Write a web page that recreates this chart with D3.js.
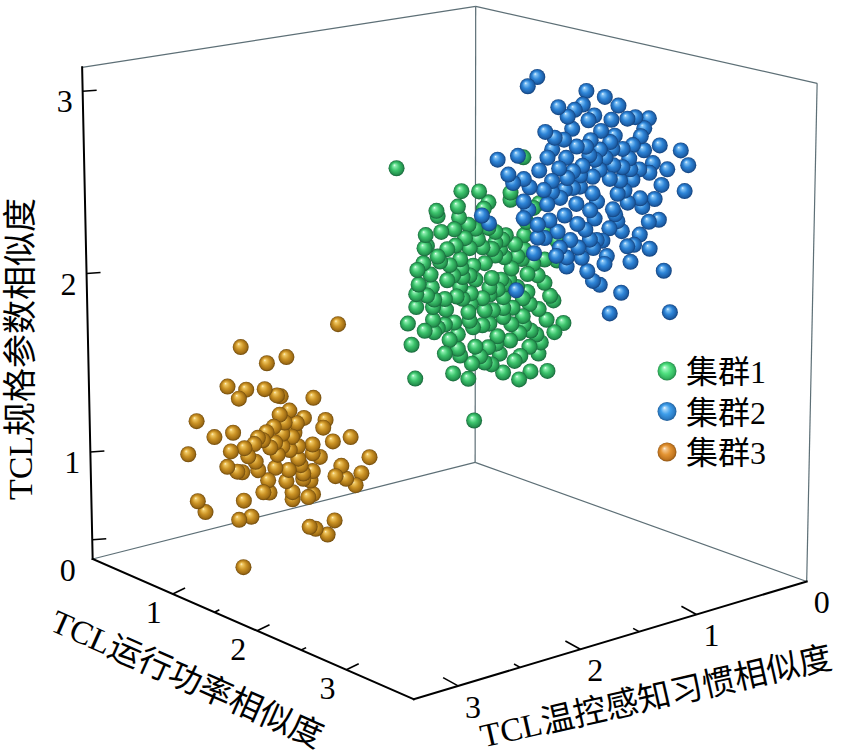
<!DOCTYPE html>
<html>
<head>
<meta charset="utf-8">
<script src="https://cdn.jsdelivr.net/npm/d3@7"></script>
<style>
  body { margin: 0; background: #fff; }
  svg { display: block; }
</style>
</head>
<body>
<svg id="chart" width="841" height="756"></svg>
<script>
// axis ranges (data units)
const xDomain = [0, 3.72];   // TCL运行功率相似度
const yDomain = [0, 3.35];   // TCL温控感知习惯相似度
const zDomain = [0.39, 3.13]; // TCL规格参数相似度

const xTicks = [0, 1, 2, 3];
const yTicks = [0, 1, 2, 3];
const zTicks = [0.5, 1, 2, 3];
const zTickLabels = [1, 2, 3];
const minorTicks = [1.5, 2.5];

const clusterNames = ["集群1", "集群2", "集群3"];

// 集群1 (x, y, z)
const cluster1 = [
  [2.0,2.20,2.71],[2.0,1.66,2.52],[2.0,1.51,2.50],[2.0,1.43,2.43],[2.0,1.47,2.40],[2.0,1.87,2.44],
  [2.0,1.86,2.41],[2.0,1.68,2.38],[2.0,1.72,2.32],[2.0,1.60,2.33],[2.0,1.54,2.30],[2.0,1.37,2.26],
  [2.0,1.28,2.23],[2.0,1.96,2.32],[2.0,1.95,2.26],[2.0,1.71,2.23],[2.0,1.63,2.26],[2.0,1.59,2.20],
  [2.0,1.48,2.19],[2.0,1.37,2.20],[2.0,1.31,2.21],[2.0,1.12,2.21],[2.0,1.24,2.46],[2.0,1.24,2.42],
  [2.0,0.99,2.37],[2.0,1.04,2.35],[2.0,1.98,2.17],[2.0,2.03,2.14],[2.0,1.92,2.10],[2.0,1.67,2.15],
  [2.0,1.66,2.10],[2.0,1.56,2.10],[2.0,1.46,2.10],[2.0,1.37,2.13],[2.0,1.29,2.11],[2.0,1.18,2.10],
  [2.0,1.12,2.13],[2.0,1.14,2.08],[2.0,1.04,2.04],[2.0,0.94,2.05],[2.0,0.83,2.14],[2.0,0.83,2.03],
  [2.0,1.09,1.99],[2.0,1.78,2.05],[2.0,1.65,2.05],[2.0,1.54,2.02],[2.0,1.40,2.01],[2.0,1.32,1.99],
  [2.0,1.25,1.98],[2.0,0.94,1.92],[2.0,1.59,2.05],[2.0,1.73,2.07],[2.0,2.04,2.01],[2.0,1.95,1.99],
  [2.0,1.80,1.95],[2.0,1.70,1.95],[2.0,1.58,1.95],[2.0,1.48,1.91],[2.0,1.30,1.89],[2.0,1.09,1.89],
  [2.0,0.89,1.84],[2.0,2.04,1.94],[2.0,1.90,1.92],[2.0,1.79,1.89],[2.0,1.58,1.89],[2.0,1.46,1.84],
  [2.0,1.30,1.83],[2.0,1.13,1.76],[2.0,2.11,1.86],[2.0,1.90,1.85],[2.0,1.89,1.78],[2.0,1.86,1.80],
  [2.0,1.59,1.80],[2.0,1.56,1.76],[2.0,1.42,1.76],[2.0,1.30,1.78],[2.0,1.23,1.73],[2.0,1.69,1.74],
  [2.0,1.16,1.67],[2.0,1.35,1.68],[2.0,1.06,1.67],[2.0,1.01,1.64],[2.0,0.97,1.59],[2.0,0.85,1.63],
  [2.0,0.77,1.67],[2.0,1.69,1.66],[2.0,1.54,1.65],[2.0,1.43,1.63],[2.0,1.36,1.64],[2.0,1.07,1.58],
  [2.0,1.80,1.65],[2.0,1.15,1.54],[2.0,1.57,1.56],[2.0,1.46,1.55],[2.0,1.40,1.53],[2.0,1.73,1.53],
  [2.0,1.30,1.47],[2.0,1.06,1.44],[2.0,0.91,1.42],[2.0,2.05,1.55],[2.0,1.55,1.24],[2.0,1.42,1.92],
  [2.0,1.13,1.86],[2.0,1.22,1.82],[2.0,1.39,1.83],[2.0,1.91,2.03],[2.0,1.67,2.00],[2.0,1.18,1.93],
  [2.0,1.42,1.96],[2.0,1.13,2.64],[2.0,1.84,2.16],[2.0,1.78,2.22],
  [2.0,1.86,2.19],[2.0,1.29,1.96],[2.0,1.60,1.85],[2.0,1.72,1.81],[2.0,1.24,1.64],[2.0,1.50,1.59],
  [2.0,0.99,1.78],[2.0,1.33,2.16],[2.0,1.65,1.93],[2.0,1.07,1.82],[2.0,1.80,1.81],[2.0,1.43,2.29],
  [2.0,2.02,2.06],[2.0,0.92,1.71],[2.0,1.20,1.52],
  [2.0,1.97,2.25],[2.0,1.83,2.32],[2.0,1.76,2.13],[2.0,1.40,2.17],[2.0,1.20,2.17],[2.0,1.00,1.97],
  [2.0,0.86,1.81],[2.0,1.97,1.80],[2.0,1.67,1.62],[2.0,1.33,1.58],[2.0,0.99,1.53],[2.0,1.89,1.96],
  [2.0,1.23,2.04],[2.0,1.52,2.24],[2.0,1.69,2.44],[2.0,1.10,2.28],[2.0,1.48,1.76],[2.0,1.12,1.71],
  [2.0,1.76,1.72],[2.0,1.35,1.94],[2.0,2.08,1.74],[2.0,1.60,1.48],[2.0,1.16,1.41],[2.0,0.94,2.21]
];

// 集群2
const cluster2 = [
  [2.6,1.49,3.19],[2.6,1.57,3.15],[2.6,1.07,3.07],[2.6,1.31,3.01],[2.6,1.23,2.95],[2.6,1.10,3.00],
  [2.6,1.00,2.93],[2.6,1.05,2.91],[2.6,0.79,2.96],[2.6,0.71,2.88],[2.6,0.64,2.88],[2.6,0.52,2.86],
  [2.6,1.42,2.89],[2.6,1.34,2.85],[2.6,1.19,2.88],[2.6,0.94,2.84],[2.6,0.59,2.77],[2.6,0.86,2.77],
  [2.6,0.66,2.73],[2.6,0.23,2.65],[2.6,0.16,2.56],[2.6,1.82,2.79],[2.6,1.65,2.79],[2.6,1.36,2.79],
  [2.6,1.40,2.75],[2.6,1.15,2.78],[2.6,1.07,2.77],[2.6,1.04,2.72],[2.6,1.24,2.73],[2.6,0.84,2.73],
  [2.6,0.90,2.69],[2.6,0.75,2.72],[2.6,0.69,2.66],[2.6,1.73,2.70],[2.6,1.69,2.65],[2.6,1.30,2.68],
  [2.6,1.18,2.65],[2.6,1.10,2.67],[2.6,0.83,2.64],[2.6,0.75,2.62],[2.6,0.48,2.61],[2.6,0.51,2.56],
  [2.6,0.60,2.59],[2.6,1.01,2.60],[2.6,1.36,2.62],[2.6,1.23,2.62],[2.6,0.86,2.57],[2.6,0.66,2.54],
  [2.6,1.55,2.61],[2.6,0.40,2.48],[2.6,0.19,2.42],[2.6,0.95,2.63],[2.6,1.12,2.56],[2.6,1.36,2.56],
  [2.6,1.29,2.52],[2.6,1.18,2.56],[2.6,1.01,2.51],[2.6,0.79,2.48],[2.6,0.59,2.43],[2.6,1.60,2.54],
  [2.6,1.15,2.47],[2.6,0.97,2.46],[2.6,0.83,2.40],[2.6,0.70,2.42],[2.6,0.57,2.38],[2.6,1.60,2.45],
  [2.6,1.48,2.40],[2.6,1.38,2.41],[2.6,1.25,2.42],[2.6,1.14,2.36],[2.6,0.99,2.37],[2.6,0.86,2.30],
  [2.6,0.79,2.33],[2.6,0.51,2.29],[2.6,1.89,2.46],[2.6,1.48,2.33],[2.6,1.42,2.32],[2.6,1.31,2.34],
  [2.6,1.03,2.26],[2.6,0.97,2.25],[2.6,0.70,2.18],[2.6,0.64,2.18],[2.6,1.51,2.25],[2.6,1.32,2.21],
  [2.6,1.23,2.19],[2.6,1.13,2.23],[2.6,1.10,2.17],[2.6,1.00,2.21],[2.6,0.88,2.15],[2.6,1.23,2.14],
  [2.6,1.05,2.09],[2.6,1.00,2.03],[2.6,0.67,2.09],[2.6,0.37,2.00],[2.6,1.66,2.07],[2.6,0.75,1.93],
  [2.6,0.85,1.83],[2.6,0.31,1.76],[2.6,1.95,2.51],[2.6,0.95,2.74],[2.6,0.77,2.55],[2.6,1.07,2.32],
  [2.6,0.56,2.69],[2.6,0.46,2.41],[2.6,1.20,2.28],[2.6,0.85,2.89],[2.6,0.73,2.49],[2.6,0.92,2.24],
  [2.6,0.75,2.27],[2.6,1.26,2.83],[2.6,1.40,2.50],[2.6,1.03,2.42],
  [2.6,1.17,2.98],[2.6,0.91,3.02],[2.6,0.56,2.81],[2.6,0.42,2.70],[2.6,0.35,2.56],[2.6,0.82,2.80],
  [2.6,1.03,2.80],[2.6,1.25,2.56],[2.6,1.47,2.69],[2.6,1.56,2.49],[2.6,1.29,2.25],[2.6,0.90,2.11],
  [2.6,0.59,2.23],[2.6,0.42,2.29],[2.6,0.99,2.69],[2.6,0.68,2.60],[2.6,1.12,2.62],[2.6,0.81,2.37],
  [2.6,1.43,2.58],[2.6,0.94,2.00],[2.6,0.50,2.14],[2.6,1.60,2.66]
];

// 集群3
const cluster3 = [
  [1.2,2.11,1.73],[1.2,2.91,1.72],[1.2,2.54,1.61],[1.2,2.70,1.60],[1.2,3.02,1.52],[1.2,2.87,1.48],
  [1.2,2.93,1.44],[1.2,2.72,1.46],[1.2,2.62,1.41],[1.2,2.59,1.40],[1.2,2.32,1.35],[1.2,3.27,1.37],
  [1.2,2.60,1.30],[1.2,2.40,1.25],[1.2,2.22,1.21],[1.2,2.46,1.23],[1.2,2.24,1.17],[1.2,2.65,1.24],
  [1.2,3.13,1.26],[1.2,2.98,1.26],[1.2,2.78,1.20],[1.2,2.71,1.22],[1.2,2.58,1.19],[1.2,2.50,1.16],
  [1.2,2.16,1.08],[1.2,2.01,1.08],[1.2,2.74,1.18],[1.2,2.68,1.13],[1.2,2.89,1.16],[1.2,3.00,1.16],
  [1.2,2.58,1.12],[1.2,2.45,1.10],[1.2,2.33,1.09],[1.2,2.33,1.04],[1.2,2.62,1.08],[1.2,3.34,1.20],
  [1.2,2.86,1.11],[1.2,2.80,1.07],[1.2,2.45,1.03],[1.2,1.85,0.94],[1.2,3.03,1.08],[1.2,2.95,1.04],
  [1.2,2.91,1.03],[1.2,2.64,1.01],[1.2,2.41,0.94],[1.2,2.33,0.94],[1.2,2.09,0.93],[1.2,1.92,0.86],
  [1.2,2.14,0.88],[1.2,2.05,0.85],[1.2,1.97,0.80],[1.2,2.70,0.95],[1.2,2.55,0.92],[1.2,2.41,0.91],
  [1.2,2.35,0.89],[1.2,2.74,0.89],[1.2,2.69,0.88],[1.2,2.50,0.85],[1.2,2.50,0.81],[1.2,2.37,0.80],
  [1.2,2.33,0.81],[1.2,3.27,0.93],[1.2,3.21,0.86],[1.2,2.90,0.87],[1.2,2.94,0.77],[1.2,2.84,0.77],
  [1.2,2.36,0.63],[1.2,2.31,0.61],[1.2,2.21,0.56],[1.2,2.15,0.63],[1.2,2.91,0.50],[1.2,2.48,1.18],
  [1.2,2.64,1.15],[1.2,2.52,1.09],[1.2,2.43,0.99],[1.2,2.56,1.25],[1.2,2.81,1.17],[1.2,2.53,0.98],
  [1.2,2.78,1.02],[1.2,2.27,1.01],[1.2,2.52,1.31]
];

const svg = d3.select("#chart");

// normalise each axis to 0..1, then a perspective camera fitted to the frame
const sx = d3.scaleLinear().domain(xDomain).range([0, 1]);
const sy = d3.scaleLinear().domain(yDomain).range([0, 1]);
const sz = d3.scaleLinear().domain(zDomain).range([0, 1]);

const [x0, x1] = xDomain, [y0, y1] = yDomain, [z0, z1] = zDomain;

// where the box corners and axis ticks sit on the page
const frameAnchors = [
  [[x0, y1, z0], [93, 559]], [[x0, y1, z1], [82, 68]],
  [[x0, y0, z0], [474, 463]], [[x0, y0, z1], [476, 5]],
  [[x1, y0, z0], [803, 583]], [[x1, y0, z1], [817, 84]],
  [[x1, y1, z0], [411, 699]],
  [[1, y1, z0], [175, 595]], [[2, y1, z0], [257, 631]], [[3, y1, z0], [345, 670]],
  [[x1, 1, z0], [702, 613]], [[x1, 2, z0], [583, 648]], [[x1, 3, z0], [457, 686]],
  [[x0, y1, 3], [83, 92]], [[x0, y1, 2], [86, 273]], [[x0, y1, 1], [90, 451]]
];

function fitCamera(pairs) {
  const N = 11;
  const M = Array.from({ length: N }, () => new Array(N + 1).fill(0));
  const addRow = (r, t) => {
    for (let i = 0; i < N; i++) {
      for (let j = 0; j < N; j++) M[i][j] += r[i] * r[j];
      M[i][N] += r[i] * t;
    }
  };
  pairs.forEach(([p, [u, v]]) => {
    const X = sx(p[0]), Y = sy(p[1]), Z = sz(p[2]);
    addRow([X, Y, Z, 1, 0, 0, 0, 0, -u * X, -u * Y, -u * Z], u);
    addRow([0, 0, 0, 0, X, Y, Z, 1, -v * X, -v * Y, -v * Z], v);
  });
  for (let c = 0; c < N; c++) {
    let piv = c;
    for (let r = c + 1; r < N; r++) if (Math.abs(M[r][c]) > Math.abs(M[piv][c])) piv = r;
    [M[c], M[piv]] = [M[piv], M[c]];
    for (let r = 0; r < N; r++) {
      if (r === c) continue;
      const f = M[r][c] / M[c][c];
      for (let k = c; k <= N; k++) M[r][k] -= f * M[c][k];
    }
  }
  return M.map((row, i) => row[N] / row[i]);
}

const cam = fitCamera(frameAnchors);

function project(x, y, z) {
  const X = sx(x), Y = sy(y), Z = sz(z);
  const w = cam[8] * X + cam[9] * Y + cam[10] * Z + 1;
  return [
    (cam[0] * X + cam[1] * Y + cam[2] * Z + cam[3]) / w,
    (cam[4] * X + cam[5] * Y + cam[6] * Z + cam[7]) / w,
    w
  ];
}

// gradients for the shaded balls
const defs = svg.append("defs");
const ballStops = {
  c1: ["#f2fff7", "#8aeeae", "#3dc46d", "#25934f", "#17633a"],
  c2: ["#eef7ff", "#82c3f6", "#2f86d8", "#1d5fa8", "#123f78"],
  c3: ["#fff4d2", "#f0c862", "#cc9426", "#a06d14", "#6c480c"],
  l1: ["#f6fff8", "#9df5bd", "#4fe07f", "#34b560", "#238446"],
  l2: ["#f2f9ff", "#9fd3fa", "#3e9eea", "#2c7cc4", "#1f5c96"],
  l3: ["#fff6e6", "#f5c58a", "#e39434", "#c27620", "#8f5514"]
};
const stopAt = [0, 0.16, 0.5, 0.84, 1];
Object.entries(ballStops).forEach(([id, cols]) => {
  const g = defs.append("radialGradient").attr("id", "ball-" + id)
    .attr("cx", "50%").attr("cy", "50%").attr("r", "50%")
    .attr("fx", "36%").attr("fy", "30%");
  cols.forEach((c, i) => g.append("stop").attr("offset", stopAt[i]).attr("stop-color", c));
});

// box frame
const A = project(x0, y1, z0), At = project(x0, y1, z1);
const B = project(x0, y0, z0), Bt = project(x0, y0, z1);
const C = project(x1, y0, z0), Ct = project(x1, y0, z1);
const D = project(x1, y1, z0);

const frame = svg.append("g");
[[At, Bt], [Bt, Ct], [B, Bt], [C, Ct], [A, B], [B, C]].forEach(([p, q]) => {
  frame.append("line")
    .attr("x1", p[0]).attr("y1", p[1]).attr("x2", q[0]).attr("y2", q[1])
    .attr("stroke", "#5d6f76").attr("stroke-width", 1.2);
});
[[A, At], [A, D], [D, C]].forEach(([p, q]) => {
  frame.append("line")
    .attr("x1", p[0]).attr("y1", p[1]).attr("x2", q[0]).attr("y2", q[1])
    .attr("stroke", "#000").attr("stroke-width", 2).attr("stroke-linecap", "square");
});

// ticks
const tickVec = { x: [12.3, -6], y: [-15, -8.3], z: [14, -1] };
function tick(p, vec, k) {
  frame.append("line")
    .attr("x1", p[0]).attr("y1", p[1])
    .attr("x2", p[0] + vec[0] * k).attr("y2", p[1] + vec[1] * k)
    .attr("stroke", "#000").attr("stroke-width", 1.6);
}
xTicks.filter(t => t > 0).forEach(t => tick(project(t, y1, z0), tickVec.x, 1));
yTicks.filter(t => t > 0).forEach(t => tick(project(x1, t, z0), tickVec.y, 1));
zTicks.forEach(t => tick(project(x0, y1, t), tickVec.z, 1));
minorTicks.forEach(t => {
  tick(project(t, y1, z0), tickVec.x, 0.4);
  tick(project(x1, t, z0), tickVec.y, 0.4);
});

// balls, far ones first
const farSign = Math.sign(B[2] - D[2]) || 1;
const balls = [];
[[cluster1, "c1"], [cluster2, "c2"], [cluster3, "c3"]].forEach(([pts, id]) => {
  pts.forEach(d => {
    const p = project(d[0], d[1], d[2]);
    balls.push({ u: p[0], v: p[1], w: p[2], id });
  });
});
balls.sort((a, b) => farSign * (b.w - a.w));

svg.append("g").selectAll("circle")
  .data(balls)
  .join("circle")
  .attr("cx", d => d.u)
  .attr("cy", d => d.v)
  .attr("r", 8)
  .attr("fill", d => `url(#ball-${d.id})`);

// tick labels
const font = '"Liberation Serif","Times New Roman","Noto Sans CJK SC",serif';
const labels = svg.append("g").attr("font-family", font).attr("fill", "#000");

xTicks.forEach(t => {
  const p = project(t, y1, z0);
  const dx = t === 0 ? -25 : -19, dy = t === 0 ? 11 : 18;
  labels.append("text").attr("x", p[0] + dx).attr("y", p[1] + dy)
    .attr("text-anchor", "middle").attr("dominant-baseline", "central")
    .attr("font-size", 32).text(t);
});
yTicks.forEach(t => {
  const p = project(x1, t, z0);
  labels.append("text").attr("x", p[0] + 15).attr("y", p[1] + 21)
    .attr("text-anchor", "middle").attr("dominant-baseline", "central")
    .attr("font-size", 32).text(t);
});
zTickLabels.forEach(t => {
  const p = project(x0, y1, t);
  labels.append("text").attr("x", p[0] - 10).attr("y", p[1] + 10)
    .attr("text-anchor", "end").attr("dominant-baseline", "central")
    .attr("font-size", 32).text(t);
});

// axis titles
[
  { text: "TCL规格参数相似度", x: 20, y: 349, rot: -90, size: 34 },
  { text: "TCL运行功率相似度", x: 187, y: 679, rot: 23.9, size: 33 },
  { text: "TCL温控感知习惯相似度", x: 656, y: 697, rot: -12.8, size: 33 }
].forEach(t => {
  labels.append("text")
    .attr("transform", `translate(${t.x},${t.y}) rotate(${t.rot})`)
    .attr("text-anchor", "middle").attr("dominant-baseline", "central")
    .attr("font-size", t.size).text(t.text);
});

// legend
const legend = svg.append("g").attr("transform", "translate(667,371)");
clusterNames.forEach((name, i) => {
  const row = legend.append("g").attr("transform", `translate(0,${i * 40.5})`);
  row.append("circle").attr("r", 9.5).attr("fill", `url(#ball-l${i + 1})`);
  row.append("text").attr("x", 19).attr("y", 1)
    .attr("dominant-baseline", "central")
    .attr("font-family", font).attr("font-size", 32).text(name);
});
</script>
</body>
</html>
